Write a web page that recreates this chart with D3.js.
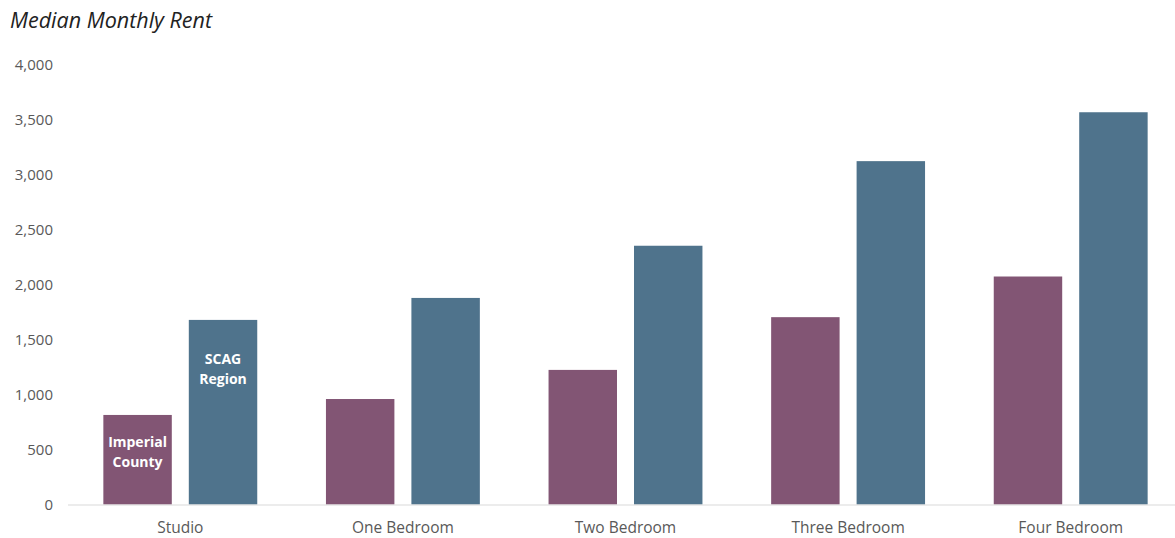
<!DOCTYPE html>
<html><head><meta charset="utf-8">
<script src="https://cdn.jsdelivr.net/npm/d3@7"></script>
<style>html,body{margin:0;padding:0;background:#fff;}svg{display:block;}</style>
</head><body>
<svg id="chart" width="1175" height="538"></svg>
<script>
const categories = ["Studio", "One Bedroom", "Two Bedroom", "Three Bedroom", "Four Bedroom"];
const seriesNames = ["Imperial County", "SCAG Region"];
const imperialCounty = [815, 960, 1225, 1705, 2075];
const scagRegion = [1680, 1880, 2355, 3125, 3570];
const yTicks = [0, 500, 1000, 1500, 2000, 2500, 3000, 3500, 4000];
const seriesLabels = [["Imperial", "County"], ["SCAG", "Region"]];
const colors = ["#825574", "#4f738c"];

const svg = d3.select("#chart");
const font = "'Segoe UI', 'Open Sans', 'Noto Sans', sans-serif";

const x0 = d3.scaleBand().domain(categories).range([69, 1182]).paddingInner(0).paddingOuter(0);
const x1 = d3.scaleBand().domain(seriesNames).range([0, x0.bandwidth()]).paddingInner(0.199).paddingOuter(0.402);
const y = d3.scaleLinear().domain([0, 4000]).range([504.5, 65]);

svg.append("text").attr("x", 10).attr("y", 27.5)
  .attr("font-family", font).attr("font-style", "italic").attr("font-size", 21.5)
  .attr("fill", "#222").text("Median Monthly Rent");

// y axis
const yAxis = svg.append("g").attr("transform", "translate(53,0)")
  .call(d3.axisLeft(y).tickValues(yTicks).tickSize(0).tickPadding(0).tickFormat(d3.format(",")));
yAxis.select(".domain").remove();
yAxis.selectAll("text").attr("font-family", font).attr("font-size", 15).attr("fill", "#595959");

const data = categories.map((c, i) => ({cat: c, vals: [imperialCounty[i], scagRegion[i]]}));

const groups = svg.append("g").selectAll("g").data(data).join("g")
  .attr("transform", d => `translate(${x0(d.cat)},0)`);
groups.selectAll("rect").data(d => d.vals.map((v, j) => ({s: seriesNames[j], v, j}))).join("rect")
  .attr("x", d => x1(d.s)).attr("width", x1.bandwidth())
  .attr("y", d => y(d.v)).attr("height", d => y(0) - y(d.v))
  .attr("fill", d => colors[d.j]);

// x axis
const xAxis = svg.append("g").attr("transform", `translate(0,${y(0)})`)
  .call(d3.axisBottom(x0).tickSize(0).tickPadding(17));
xAxis.select(".domain").attr("d", "M68,0.5H1175").attr("stroke", "#d9d9d9").attr("stroke-width", 1.2);
xAxis.selectAll("text").attr("font-family", font).attr("font-size", 15.5).attr("fill", "#595959");

// in-bar labels for the first category
const firstCat = categories[0];
seriesNames.forEach((s, j) => {
  const cx = x0(firstCat) + x1(s) + x1.bandwidth() / 2;
  const v = j === 0 ? imperialCounty[0] : scagRegion[0];
  const top = y(v);
  const t = svg.append("text").attr("text-anchor", "middle")
    .attr("font-family", font).attr("font-weight", "bold").attr("font-size", 14)
    .attr("fill", "#ffffff");
  seriesLabels[j].forEach((line, k) => {
    t.append("tspan").attr("x", cx).attr("y", top + (j === 0 ? 32 : 44) + k * 20).text(line);
  });
});
</script>
</body></html>
